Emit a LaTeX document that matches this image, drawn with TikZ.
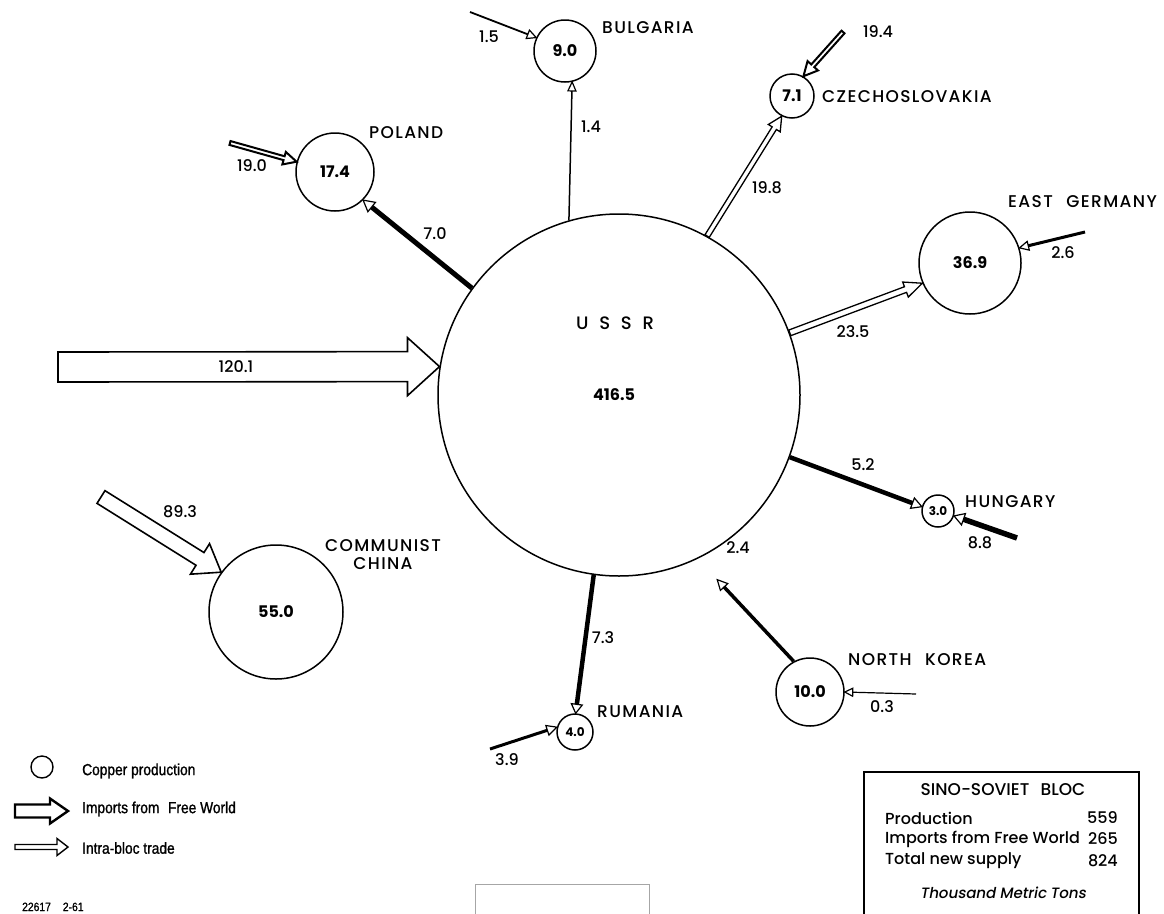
\documentclass[tikz,border=0pt]{standalone}
\usepackage{fontspec}
\setmainfont{Poppins}
\newfontfamily\labelfont[LetterSpace=8]{Poppins Medium}
\newfontfamily\numfont{Poppins Medium}
\newfontfamily\legendfont[FakeStretch=0.86, FakeBold=1.2]{Liberation Sans}
\newfontfamily\slantfont[FakeSlant=0.18]{Poppins Medium}
\usetikzlibrary{calc}

\tikzset{
  country/.style={circle, draw, line width=1.5pt, inner sep=0pt, font=\bfseries\fontsize{16}{18}\selectfont},
  cname/.style={font=\labelfont\fontsize{17}{19}\selectfont, inner sep=0pt},
  num/.style={font=\numfont\fontsize{16}{18}\selectfont, inner sep=0pt},
  legtext/.style={font=\legendfont\fontsize{16}{18}\selectfont, inner sep=0pt, anchor=west},
  boxtext/.style={font=\numfont\fontsize{16}{18}\selectfont, inner sep=0pt},
  hollowstyle/.style={draw, fill=white, line width=1.3pt, line join=miter},
  headstyle/.style={draw, fill=white, line width=1.2pt, line join=miter},
}

% [opts]{from}{to}{shaft width}{head width}{head length}
\newcommand\hollowarrow[6][]{%
  \draw[hollowstyle,#1] let \p1=(#2), \p2=(#3),
    \n1={atan2(\y2-\y1,\x2-\x1)}, \n2={veclen(\x2-\x1,\y2-\y1)} in
    [shift={(\p1)}, rotate=\n1]
    (0pt,{-(#4)*0.5pt}) -- ({(\n2-(#6))*1pt},{-(#4)*0.5pt})
    -- ({(\n2-(#6))*1pt},{-(#5)*0.5pt}) -- ({\n2*1pt},0pt)
    -- ({(\n2-(#6))*1pt},{(#5)*0.5pt}) -- ({(\n2-(#6))*1pt},{(#4)*0.5pt})
    -- (0pt,{(#4)*0.5pt}) -- cycle;}

% [opts]{from}{to}{line width}{head width}{head length}
\newcommand\solidarrow[6][]{%
  \draw[line width=#4pt,#1] let \p1=(#2), \p2=(#3),
    \n1={atan2(\y2-\y1,\x2-\x1)}, \n2={veclen(\x2-\x1,\y2-\y1)} in
    [shift={(\p1)}, rotate=\n1]
    (0pt,0pt) -- ({(\n2-(#6))*1pt},0pt);
  \draw[headstyle] let \p1=(#2), \p2=(#3),
    \n1={atan2(\y2-\y1,\x2-\x1)}, \n2={veclen(\x2-\x1,\y2-\y1)} in
    [shift={(\p1)}, rotate=\n1]
    ({(\n2-(#6))*1pt},{-(#5)*0.5pt}) -- ({\n2*1pt},0pt)
    -- ({(\n2-(#6))*1pt},{(#5)*0.5pt}) -- cycle;}

\begin{document}
\begin{tikzpicture}[x=1pt,y=-1pt]
\path[use as bounding box] (0,0) rectangle (1164,913);
\clip (0,0) rectangle (1164,913);

% ---------- circles ----------
\node[country, minimum size=362pt] (ussr) at (619,395) {};
\node[font=\labelfont\fontsize{18}{20}\selectfont, inner sep=0pt] (ussrname) at (615,323) {U\hspace{0.6em}S\hspace{0.6em}S\hspace{0.6em}R};
\node[font=\bfseries\fontsize{16}{18}\selectfont, inner sep=0pt] (ussrval) at (614,395) {416.5};

\node[country, minimum size=62pt] (bul) at (565,51) {9.0};
\node[country, minimum size=44pt] (cz) at (792,96) {7.1};
\node[country, minimum size=78pt] (pol) at (335,172) {17.4};
\node[country, minimum size=102pt] (eg) at (970,263) {36.9};
\node[country, minimum size=32pt, font=\bfseries\fontsize{12}{14}\selectfont] (hun) at (938,511) {3.0};
\node[country, minimum size=68pt] (nk) at (810,692) {10.0};
\node[country, minimum size=36pt, font=\bfseries\fontsize{12}{14}\selectfont] (rum) at (575,732) {4.0};
\node[country, minimum size=134pt] (chn) at (276,612) {55.0};

% ---------- country names ----------
\node[cname, anchor=west] (bulname) at (602,28) {BULGARIA};
\node[cname, anchor=west] (czname) at (822,97) {CZECHOSLOVAKIA};
\node[cname, anchor=west] (polname) at (369,133) {POLAND};
\node[cname, anchor=east] (egname) at (1157,202) {EAST\hspace{0.8em}GERMANY};
\node[cname, anchor=west] (hunname) at (965,502) {HUNGARY};
\node[cname, anchor=west] (nkname) at (848,660) {NORTH\hspace{0.8em}KOREA};
\node[cname, anchor=west] (rumname) at (597,712) {RUMANIA};
\node[cname, align=center] (chnname) at (383,555) {COMMUNIST\\[-1pt]CHINA};

% ---------- imports from Free World ----------
\coordinate (t120) at (58,367);
\hollowarrow[line width=1.6pt]{t120}{ussr.171}{30}{58}{32}
\node[num] (l120) at (236,367) {120.1};

\coordinate (t89) at (101,497);
\hollowarrow[line width=1.6pt]{t89}{chn.144}{15}{36}{25}
\node[num] (l89) at (180,512) {89.3};

\coordinate (t190) at (230,143);
\hollowarrow[line width=2pt]{t190}{pol.165}{4}{13}{13}
\node[num] (l190) at (252,166) {19.0};

\coordinate (t15) at (470,12);
\solidarrow{t15}{bul.155}{1.8}{9}{9}
\node[num] (l15) at (489,37) {1.5};

\coordinate (t194) at (843,32);
\hollowarrow[line width=2pt]{t194}{cz.60}{4}{14}{14}
\node[num] (l194) at (878,32) {19.4};

\coordinate (t26) at (1085,232);
\solidarrow{t26}{eg.17}{3}{9}{9}
\node[num] (l26) at (1063,253) {2.6};

\coordinate (t88) at (1017,538);
\solidarrow{t88}{hun.-17}{5.5}{12}{10}
\node[num] (l88) at (980,543) {8.8};

\coordinate (t03) at (916,694);
\solidarrow{t03}{nk.0}{1.2}{8}{8}
\node[num] (l03) at (882,707) {0.3};

\coordinate (t39) at (490,749);
\solidarrow{t39}{rum.165}{3}{10}{10}
\node[num] (l39) at (507,760) {3.9};

% ---------- intra-bloc trade ----------
\solidarrow{ussr.144}{pol.-45}{5}{12}{11}
\node[num] (l70) at (435,234) {7.0};

\solidarrow{ussr.106}{bul.-77}{1.5}{8}{9}
\node[num] (l14) at (591,127) {1.4};

\hollowarrow{ussr.61}{cz.-117}{5}{14}{14}
\node[num] (l198) at (767,188) {19.8};

\hollowarrow{ussr.20}{eg.-157}{6}{16}{18}
\node[num] (l235) at (853,332) {23.5};

\solidarrow{ussr.-20}{hun.165}{4.5}{11}{10}
\node[num] (l52) at (863,465) {5.2};

\solidarrow{nk.118}{$(ussr.center)!1.15!(ussr.-62)$}{3.5}{10}{10}
\node[num] (l24) at (738,548) {2.4};

\solidarrow{ussr.-98}{rum.88}{4.5}{11}{9}
\node[num] (l73) at (603,638) {7.3};

% ---------- legend ----------
\node[circle, draw, line width=1.4pt, inner sep=0pt, minimum size=22pt] (lgc) at (42,767) {};
\node[legtext] (lgt1) at (82,771) {Copper production};
\coordinate (la1) at (15,811); \coordinate (la2) at (68,811);
\hollowarrow[line width=2.4pt]{la1}{la2}{13}{25}{18}
\node[legtext] (lgt2) at (82,809) {Imports from\hspace{0.3em} Free World};
\coordinate (lb1) at (15,847); \coordinate (lb2) at (68,847);
\hollowarrow[line width=1.4pt]{lb1}{lb2}{5}{17}{11}
\node[legtext] (lgt3) at (82,848) {Intra-bloc trade};
\node[legtext, anchor=base west, font=\legendfont\fontsize{12}{14}\selectfont] (code) at (22,911) {22617\quad 2-61};

% ---------- summary box ----------
\draw[line width=1.4pt] (864,920) -- (864,772) -- (1139,772) -- (1139,920);
\node[boxtext, font=\numfont\fontsize{17}{19}\selectfont] (bt) at (1003,790) {SINO-SOVIET\hspace{0.4em} BLOC};
\node[boxtext, anchor=west] (b1) at (885,818) {Production};
\node[boxtext, anchor=east] (b1v) at (1118,818) {559};
\node[boxtext, anchor=west] (b2) at (885,839) {Imports from Free World};
\node[boxtext, anchor=east] (b2v) at (1118,839) {265};
\node[boxtext, anchor=west] (b3) at (885,861) {Total new supply};
\node[boxtext, anchor=east] (b3v) at (1118,861) {824};
\node[boxtext, font=\slantfont\fontsize{15}{17}\selectfont] (b4) at (1003,893) {Thousand Metric Tons};

% ---------- bottom frame ----------
\draw[gray!70, line width=1pt] (475,920) -- (475,884) -- (649,884) -- (649,920);
\end{tikzpicture}
\end{document}
